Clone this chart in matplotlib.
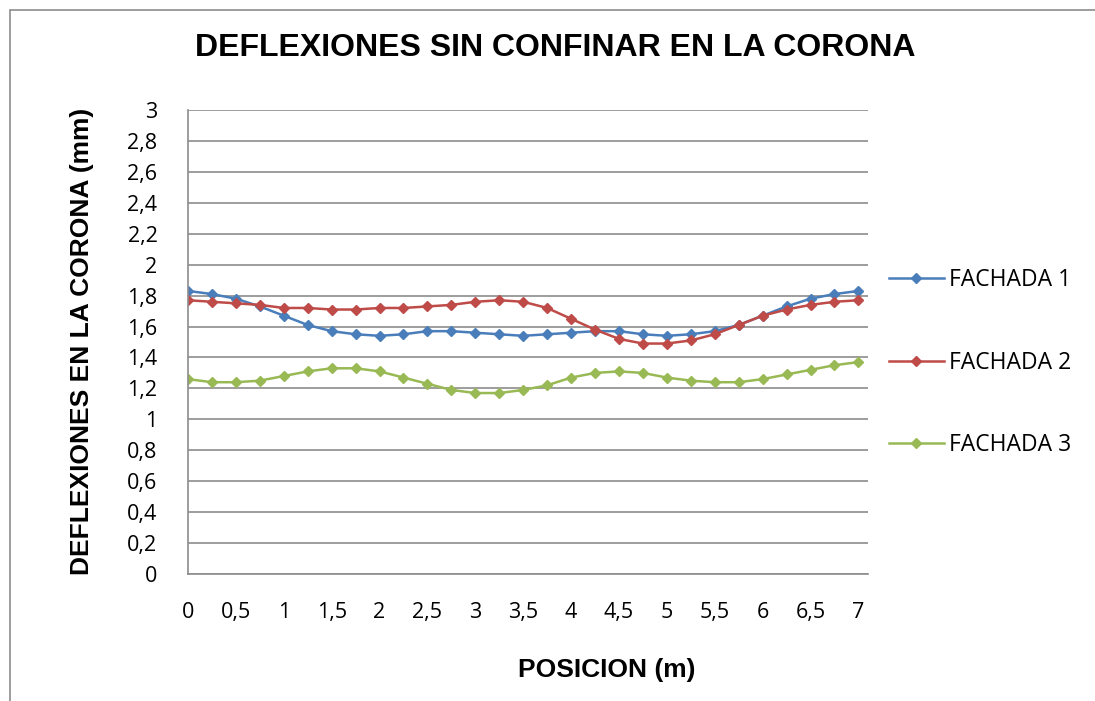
import matplotlib.pyplot as plt
from matplotlib.patches import Rectangle
from matplotlib.ticker import FuncFormatter, MultipleLocator

# posiciones a lo largo de la corona (m)
posicion = [i * 0.25 for i in range(29)]

fachada_1 = [1.83, 1.81, 1.78, 1.73, 1.67, 1.61, 1.57, 1.55, 1.54, 1.55,
             1.57, 1.57, 1.56, 1.55, 1.54, 1.55, 1.56, 1.57, 1.57, 1.55,
             1.54, 1.55, 1.57, 1.61, 1.67, 1.73, 1.78, 1.81, 1.83]
fachada_2 = [1.77, 1.76, 1.75, 1.74, 1.72, 1.72, 1.71, 1.71, 1.72, 1.72,
             1.73, 1.74, 1.76, 1.77, 1.76, 1.72, 1.65, 1.58, 1.52, 1.49,
             1.49, 1.51, 1.55, 1.61, 1.67, 1.71, 1.74, 1.76, 1.77]
fachada_3 = [1.26, 1.24, 1.24, 1.25, 1.28, 1.31, 1.33, 1.33, 1.31, 1.27,
             1.23, 1.19, 1.17, 1.17, 1.19, 1.22, 1.27, 1.30, 1.31, 1.30,
             1.27, 1.25, 1.24, 1.24, 1.26, 1.29, 1.32, 1.35, 1.37]

series = [("FACHADA 1", fachada_1, "#4A7EBB"),
          ("FACHADA 2", fachada_2, "#BE4B48"),
          ("FACHADA 3", fachada_3, "#98B954")]

fig = plt.figure(figsize=(10.95, 7.01), dpi=100)
ax = fig.add_axes([188 / 1095, 1 - 574 / 701, 680 / 1095, 464 / 701])

for nombre, valores, color in series:
    ax.plot(posicion, valores, color=color, lw=1.8, marker="D", ms=5,
            label=nombre)

coma = FuncFormatter(lambda v, p: f"{v:g}".replace(".", ","))
ax.set_xlim(0, 7.1)
ax.set_ylim(0, 3)
ax.xaxis.set_major_locator(MultipleLocator(0.5))
ax.yaxis.set_major_locator(MultipleLocator(0.2))
ax.xaxis.set_major_formatter(coma)
ax.yaxis.set_major_formatter(coma)
ax.tick_params(length=0, labelsize=15.5)
for lbl in ax.get_xticklabels() + ax.get_yticklabels():
    lbl.set_fontfamily("Open Sans")
ax.tick_params(axis="y", pad=22)
ax.tick_params(axis="x", pad=20)

ax.grid(axis="y", color="#8C8C8C", lw=1.2)
ax.set_axisbelow(True)
for lado in ["top", "right"]:
    ax.spines[lado].set_visible(False)
for lado in ["left", "bottom"]:
    ax.spines[lado].set_color("#8C8C8C")
    ax.spines[lado].set_linewidth(1.2)

ax.legend(loc="center left", bbox_to_anchor=(1.0, 0.455), frameon=False,
          prop={"family": "Open Sans", "size": 16.5}, labelspacing=2.55,
          handlelength=2.4, handletextpad=0.25, borderaxespad=0.5)

fig.text(555 / 1095, 1 - 48 / 701, "DEFLEXIONES SIN CONFINAR EN LA CORONA",
         ha="center", va="center", fontsize=23, fontweight="bold",
         family="Liberation Sans")
fig.text(607 / 1095, 1 - 670 / 701, "POSICION (m)", ha="center", va="center",
         fontsize=19, fontweight="bold", family="Liberation Sans")
fig.text(82 / 1095, 1 - 341 / 701, "DEFLEXIONES EN LA CORONA (mm)",
         ha="center", va="center", rotation=90, fontsize=19,
         fontweight="bold", family="Liberation Sans")

# marco exterior del grafico
fig.patches.append(Rectangle((10 / 1095, -0.1), 1.2, 1 - 10 / 701 + 0.1,
                             transform=fig.transFigure, fill=False,
                             edgecolor="#8C8C8C", lw=1.2))

fig.savefig("out.png", dpi=100)
